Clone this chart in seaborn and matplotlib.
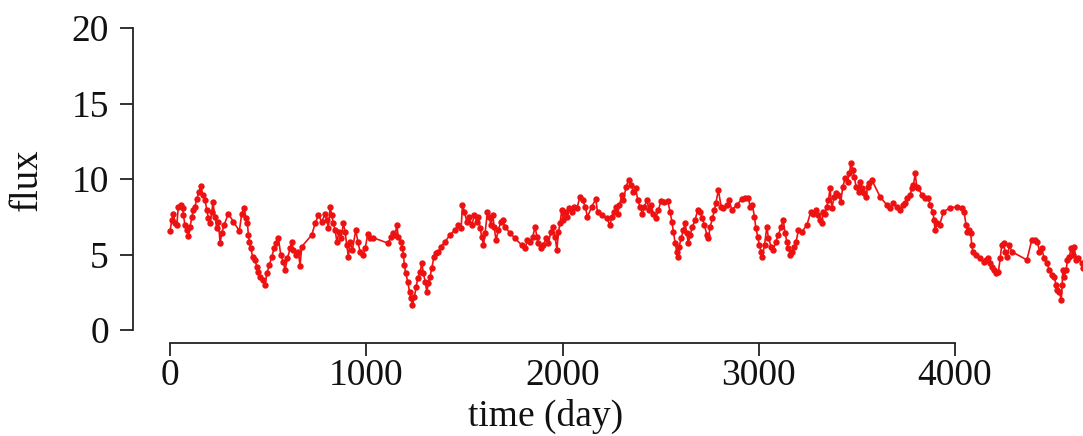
import matplotlib
matplotlib.use("Agg")
import matplotlib.pyplot as plt
import numpy as np
import pandas as pd
import seaborn as sns

# Light curve: observation time (days) and measured flux
day = [
    0, 9, 17, 25, 34, 42, 55, 65, 68, 76, 88, 93, 102, 111, 119, 127, 136, 149, 156, 167,
    178, 187, 195, 204, 213, 218, 229, 238, 246, 255, 263, 275, 297, 323, 353, 365, 377, 387, 394, 399,
    404, 411, 421, 433, 442, 450, 459, 472, 484, 493, 506, 518, 530, 540, 552, 564, 577, 586, 598, 612,
    620, 628, 642, 654, 662, 671, 722, 739, 756,
    773, 790, 799, 807, 815, 824, 832, 841, 850, 861, 871, 883, 892, 900, 909, 917, 929, 946, 957, 968,
    985, 994, 1007, 1019, 1036, 1112, 1126, 1138, 1147, 1155, 1163, 1177, 1184, 1189, 1194, 1201, 1211, 1220, 1227, 1235,
    1245, 1254, 1262, 1274, 1283, 1291, 1300, 1308, 1316, 1325, 1333, 1345, 1354, 1367, 1381, 1401, 1427, 1452, 1469, 1483,
    1490, 1500, 1512, 1524, 1537, 1551,
    1563, 1571, 1580, 1588, 1597, 1605, 1617, 1627, 1634, 1645, 1651, 1661, 1673, 1685, 1695, 1707, 1733, 1758, 1792, 1809,
    1821, 1835, 1848, 1860, 1869, 1877, 1889, 1902, 1916, 1928, 1940, 1950, 1962, 1971, 1979, 1987, 1996, 2004, 2013, 2025,
    2035, 2047, 2059, 2073, 2089, 2103, 2115, 2127, 2149, 2169, 2178, 2200, 2225, 2242, 2251, 2263, 2273, 2280, 2290, 2302,
    2310, 2324, 2336,
    2349, 2361, 2373, 2383, 2395, 2407, 2417, 2429, 2441, 2451, 2463, 2475, 2488, 2502, 2519, 2536, 2548, 2557, 2565, 2574,
    2582, 2587, 2594, 2604, 2616, 2624, 2633, 2641, 2650, 2662, 2675, 2689, 2701, 2712, 2723, 2735, 2743, 2752, 2764, 2774,
    2781, 2794, 2808, 2820, 2837, 2849, 2862, 2888, 2913, 2930, 2947, 2956, 2967, 2978, 2985, 2995, 3002, 3012, 3018, 3029,
    3041, 3049, 3063, 3074, 3086, 3100, 3114, 3125,
    3134, 3143, 3151, 3160, 3168, 3180, 3190, 3202, 3219, 3245, 3265, 3278, 3292, 3304, 3312, 3321, 3329, 3338, 3346, 3355,
    3363, 3372, 3384, 3394, 3406, 3418, 3428, 3440, 3452, 3462, 3469, 3479, 3486, 3496, 3508, 3516, 3525, 3537, 3547, 3554,
    3564, 3576, 3618, 3652, 3669, 3686, 3703, 3720, 3734, 3746, 3757, 3771, 3780, 3788, 3797, 3805, 3813, 3831, 3847, 3864,
    3873, 3887, 3893, 3898, 3910, 3921,
    3941, 3975, 4009, 4034, 4046, 4056, 4063, 4073, 4080, 4085, 4091, 4107, 4128, 4145, 4158, 4170, 4179, 4187, 4199, 4209,
    4221, 4230, 4238, 4247, 4255, 4267, 4277, 4289, 4366, 4391, 4408, 4420, 4430, 4442, 4454, 4468, 4481, 4493, 4505, 4515,
    4522, 4532, 4541, 4546, 4549, 4556, 4566, 4573, 4583, 4590, 4600, 4607, 4617, 4629, 4646, 4654,
]
flux = [
    6.56, 7.3, 7.7, 7.06, 6.95, 8.17, 8.28, 8.06, 7.6, 6.95, 6.6, 6.2, 6.84, 7.5, 7.95, 8.17, 8.7, 9.16, 9.56, 8.94,
    8.6, 7.95, 7.4, 7.06, 7.83, 8.46, 7.5, 6.73, 7.17, 5.74, 6.4, 6.95, 7.7, 7.17, 6.56, 7.7, 8.1, 7.4, 7.06, 6.3,
    5.85, 5.4, 4.85, 4.64, 4.19, 3.86, 3.53, 3.31, 2.98, 3.75, 4.3, 4.85, 5.4, 5.74, 6.07, 4.97, 4.52, 3.97, 4.75, 5.4,
    5.85, 5.3, 4.97, 5.19, 4.26, 5.52, 6.3, 7.06, 7.6,
    7.17, 7.7, 7.28, 6.73, 8.17, 7.6, 7.06, 6.62, 5.85, 6.5, 6.07, 7.06, 6.5, 5.63, 4.85, 5.85, 5.3, 6.62, 5.85, 5.19,
    4.97, 5.4, 6.34, 6.07, 6.11, 5.74, 6.18, 6.4, 6.3, 6.95, 6.18, 5.85, 5.4, 4.97, 4.3, 3.75, 3.2, 2.54, 2.1, 1.66,
    2.2, 2.87, 3.42, 3.86, 4.41, 3.75, 3.2, 2.54, 3.09, 3.53, 4.08, 4.85, 5.08, 5.19, 5.52, 5.85, 6.3, 6.62, 6.95, 6.73,
    8.28, 7.83, 7.17, 7.5, 6.95, 7.6,
    7.17, 7.5, 6.73, 6.18, 5.63, 6.4, 7.83, 7.5, 6.95, 7.6, 6.84, 5.96, 6.62, 7.17, 7.28, 6.84, 6.4, 6.07, 5.63, 5.4,
    5.96, 5.85, 6.18, 6.84, 6.18, 5.74, 5.4, 5.63, 6.07, 5.74, 6.5, 6.84, 6.18, 5.3, 6.5, 7.06, 7.95, 7.28, 7.83, 7.5,
    8.06, 7.83, 8.17, 8.06, 8.83, 8.61, 8.17, 7.5, 8.17, 8.67, 7.83, 7.6, 7.4, 6.95, 7.5, 7.83, 8.17, 7.7, 8.28, 8.94,
    8.61, 9.49, 9.93,
    9.6, 9.16, 9.38, 8.61, 8.17, 7.7, 8.17, 8.61, 7.95, 8.28, 7.7, 7.4, 7.95, 8.54, 8.46, 8.54, 7.83, 7.17, 6.5, 5.74,
    5.19, 4.85, 5.52, 6.07, 6.62, 7.06, 6.4, 5.74, 6.3, 6.84, 7.28, 7.95, 7.83, 7.4, 6.95, 6.3, 6.07, 6.84, 7.4, 7.95,
    8.39, 9.27, 8.17, 8.06, 8.28, 8.61, 7.95, 8.28, 8.67, 8.76, 8.72, 8.17, 8.28, 7.5, 6.73, 6.18, 5.63, 5.19, 4.85, 5.63,
    6.84, 6.07, 5.52, 5.3, 5.85, 6.3, 6.84, 7.28,
    6.4, 5.85, 5.4, 4.97, 5.19, 5.52, 5.85, 6.62, 6.5, 6.95, 7.83, 7.7, 7.95, 7.6, 7.28, 7.06, 7.83, 7.7, 8.17, 8.61,
    9.38, 8.06, 8.83, 9.05, 8.94, 8.5, 9.49, 10.05, 9.82, 10.38, 11.04, 10.6, 10.15, 9.49, 9.16, 9.82, 9.38, 9.05, 8.83, 9.49,
    9.71, 9.93, 8.83, 8.28, 8.06, 8.39, 8.17, 7.95, 8.28, 8.39, 8.72, 8.94, 9.38, 9.6, 10.38, 9.49, 9.38, 8.94, 8.72, 8.72,
    8.28, 7.83, 7.28, 6.62, 7.06, 6.95,
    7.83, 8.1, 8.15, 8.1, 7.83, 6.95, 6.5, 6.62, 6.4, 5.63, 5.19, 4.97, 4.75, 4.52, 4.64, 4.75, 4.41, 4.19, 3.97, 3.75,
    3.86, 4.75, 5.63, 5.74, 5.19, 4.85, 5.63, 5.19, 4.64, 5.96, 5.96, 5.85, 5.19, 5.4, 4.75, 4.41, 3.97, 3.64, 3.53, 2.98,
    2.65, 2.54, 1.99, 2.98, 3.97, 3.53, 3.97, 4.64, 4.85, 5.4, 4.97, 5.52, 4.64, 4.75, 4.41, 4.08,
]
x_ticks = [0, 1000, 2000, 3000, 4000]
y_ticks = [0, 5, 10, 15, 20]

df = pd.DataFrame({"day": day, "flux": flux})

sns.set_theme(style="ticks")
plt.rcParams["font.family"] = ["Liberation Serif", "DejaVu Serif"]

W, H = 1083, 436
fig = plt.figure(figsize=(W / 100, H / 100), dpi=100)
ax = fig.add_axes([133 / W, 1 - 343 / H, 1 - 133 / W, (343 - 28) / H])

sns.lineplot(data=df, x="day", y="flux", sort=False, estimator=None,
             color="#ee1111", marker="o", markersize=4.6, markeredgewidth=0,
             linewidth=1.2, ax=ax)

ax.set_xlim(-189, 4652)
ax.set_ylim(-0.86, 20)
ax.set_xticks(x_ticks)
ax.set_yticks(y_ticks)
ax.set_xticklabels([str(v) for v in x_ticks])
ax.set_yticklabels([str(v) for v in y_ticks])

for side in ("top", "right"):
    ax.spines[side].set_visible(False)
ax.spines["left"].set_bounds(0, 20)
ax.spines["bottom"].set_bounds(0, 4000)
for side in ("left", "bottom"):
    ax.spines[side].set_linewidth(1.3)
    ax.spines[side].set_color("#222222")

ax.tick_params(axis="both", direction="out", length=9.4, width=1.3,
               color="#222222", labelsize=27, labelcolor="#111111")
ax.tick_params(axis="y", pad=8)
ax.tick_params(axis="x", pad=2)

ax.set_xlabel("time (day)", fontsize=27, color="#111111", va="top")
ax.set_ylabel("flux", fontsize=28, color="#111111")
ax.xaxis.set_label_coords(0.434, -0.178)
ax.yaxis.set_label_coords(-0.092, 0.52)

fig.savefig("out.png", dpi=100, facecolor="white")
